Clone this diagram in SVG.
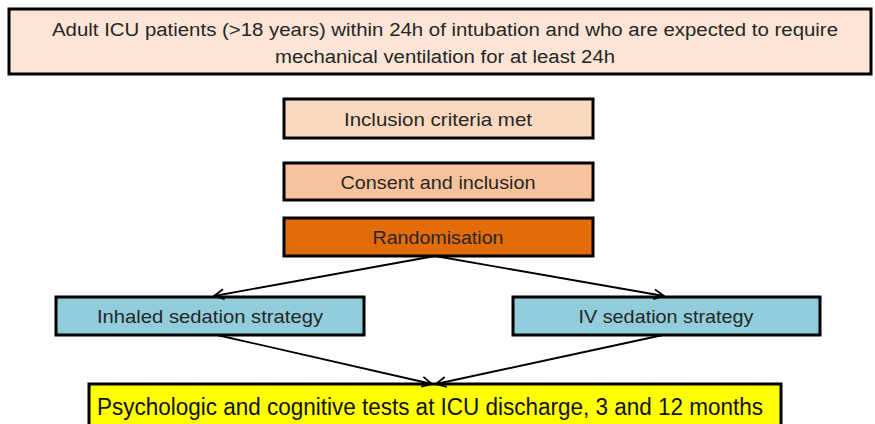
<svg xmlns="http://www.w3.org/2000/svg" width="875" height="424" viewBox="0 0 875 424">
<defs>
<style>
.box{stroke:#000;stroke-width:3}
.t{font-family:"Liberation Sans","Open Sans",sans-serif;fill:#262626;text-anchor:middle}
.c{stroke:#000;stroke-width:1.8;fill:none;marker-end:url(#ah)}
</style>
<marker id="ah" viewBox="0 0 12 12" refX="11" refY="6" markerWidth="12" markerHeight="12" markerUnits="userSpaceOnUse" orient="auto">
<path d="M1,1 L11,6 L1,11" fill="none" stroke="#000" stroke-width="1.8"/>
</marker>
</defs>
<rect width="875" height="424" fill="#fff"/>
<g id="top">
<rect class="box" x="9" y="9" width="862" height="65" fill="#FCE4D6"/>
<text class="t" x="445" y="36" font-size="18" textLength="786" lengthAdjust="spacingAndGlyphs">Adult ICU patients (&gt;18 years) within 24h of intubation and who are expected to require</text>
<text class="t" x="445" y="63" font-size="18" textLength="340" lengthAdjust="spacingAndGlyphs">mechanical ventilation for at least 24h</text>
</g>
<g id="inclusion">
<rect class="box" x="284" y="99" width="309" height="39" fill="#FBD9C0"/>
<text class="t" x="438" y="126" font-size="19" textLength="188" lengthAdjust="spacingAndGlyphs">Inclusion criteria met</text>
</g>
<g id="consent">
<rect class="box" x="284" y="163" width="309" height="37" fill="#F8C39C"/>
<text class="t" x="438" y="189" font-size="19" textLength="195" lengthAdjust="spacingAndGlyphs">Consent and inclusion</text>
</g>
<g id="random">
<rect class="box" x="284" y="218" width="309" height="38" fill="#E36C0A"/>
<text class="t" x="438" y="244" font-size="19" textLength="131" lengthAdjust="spacingAndGlyphs">Randomisation</text>
</g>
<g id="inhaled">
<rect class="box" x="56" y="297" width="308" height="38" fill="#92CDDC"/>
<text class="t" x="210" y="323" font-size="19" textLength="226" lengthAdjust="spacingAndGlyphs">Inhaled sedation strategy</text>
</g>
<g id="iv">
<rect class="box" x="513" y="297" width="307" height="38" fill="#92CDDC"/>
<text class="t" x="666" y="323" font-size="19" textLength="175" lengthAdjust="spacingAndGlyphs">IV sedation strategy</text>
</g>
<g id="tests">
<rect class="box" x="89" y="384" width="692" height="50" fill="#FFFF00"/>
<text class="t" x="430" y="415" font-size="23" style="fill:#111" textLength="666" lengthAdjust="spacingAndGlyphs">Psychologic and cognitive tests at ICU discharge, 3 and 12 months</text>
</g>
<g id="connectors">
<line class="c" x1="435" y1="256" x2="214" y2="296"/>
<line class="c" x1="435" y1="256" x2="664" y2="296"/>
<line class="c" x1="217" y1="335" x2="432" y2="384"/>
<line class="c" x1="663" y1="335" x2="436" y2="384"/>
</g>
</svg>
